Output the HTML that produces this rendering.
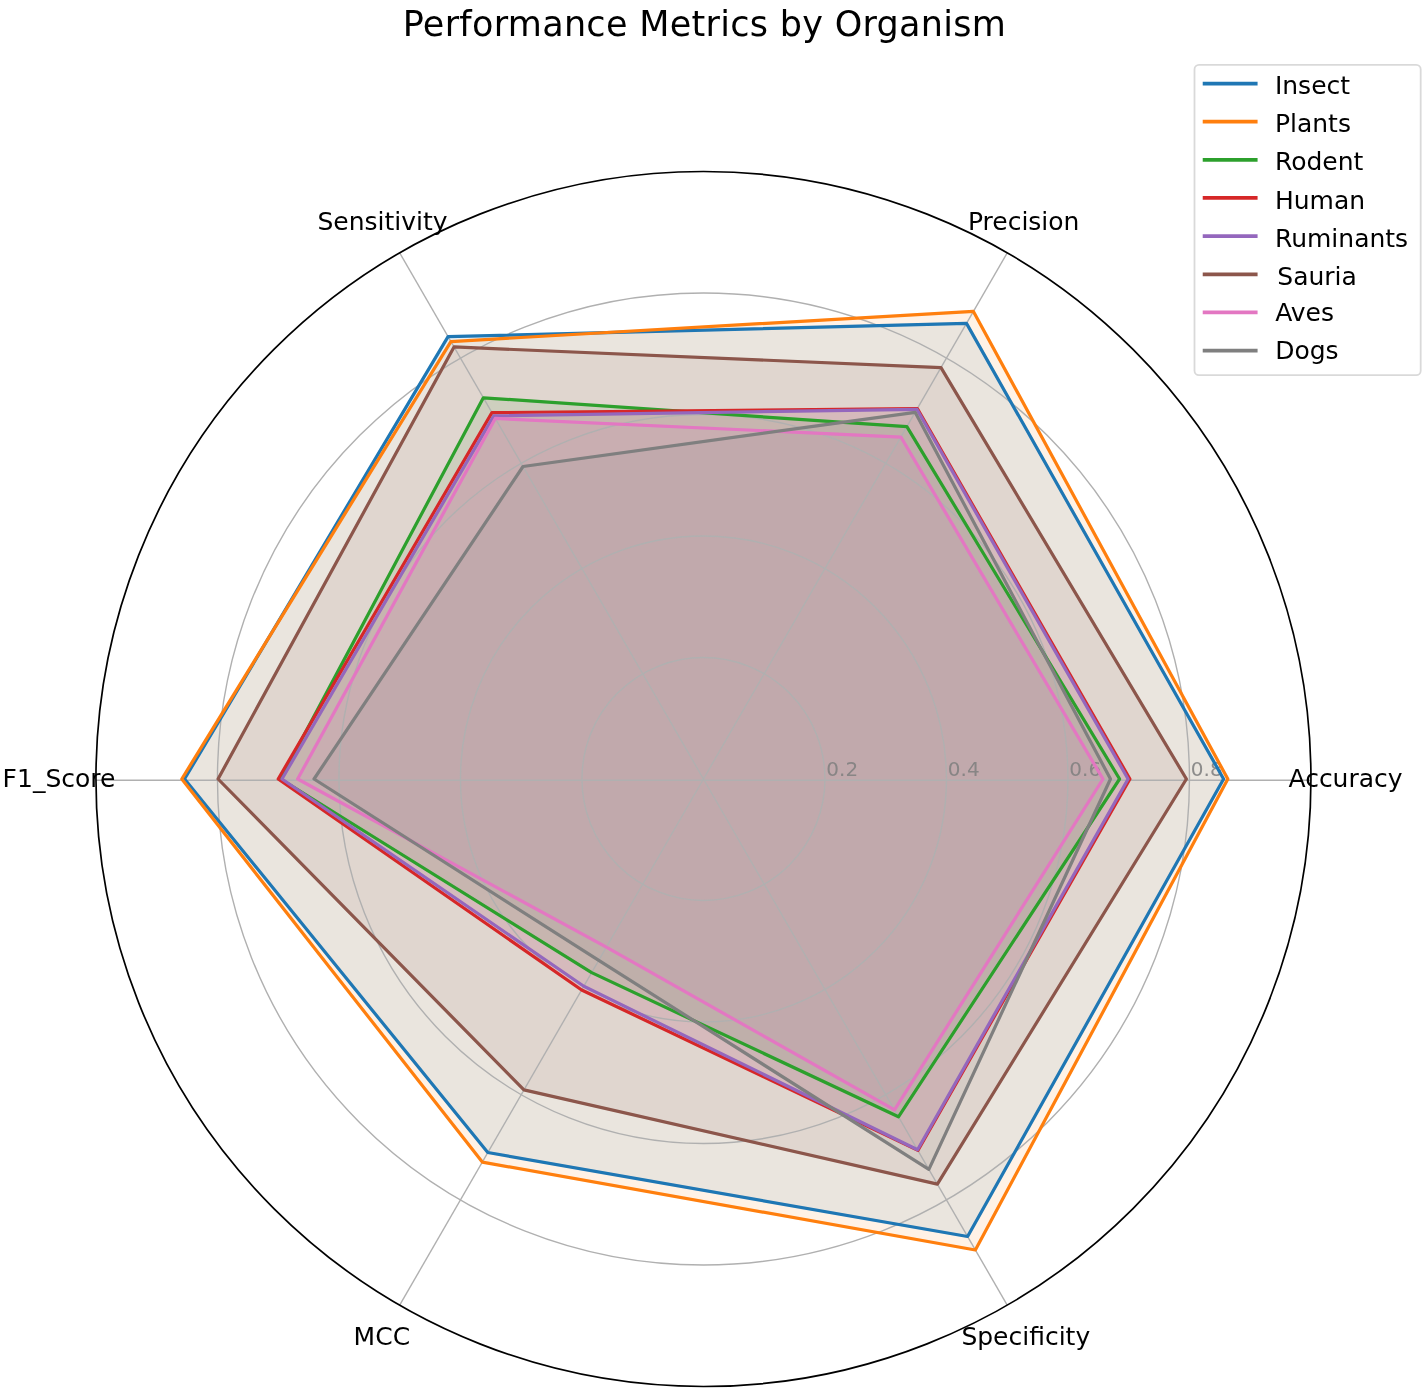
<!DOCTYPE html>
<html lang="en"><head><meta charset="utf-8"><title>Performance Metrics by Organism</title>
<style>html,body{margin:0;padding:0;background:#fff}svg{display:block}text{font-family:"DejaVu Sans","Liberation Sans",sans-serif;fill:#000}</style>
</head><body>
<svg width="1427" height="1396" viewBox="0 0 1427 1396">
<rect width="1427" height="1396" fill="#fff"/>
<g fill-opacity="0.1" stroke-opacity="0.1" stroke-width="2.5" stroke-linejoin="miter">
<polygon points="1223.59,779.00 966.50,323.39 448.06,336.65 184.52,779.00 487.79,1152.54 967.59,1236.51" fill="#1f77b4" stroke="#1f77b4"/>
<polygon points="1227.84,779.00 973.42,311.39 450.88,341.54 181.79,779.00 482.29,1162.06 975.37,1249.97" fill="#ff7f0e" stroke="#ff7f0e"/>
<polygon points="1119.59,779.00 906.87,426.66 483.35,397.78 280.63,779.00 591.67,972.61 898.46,1116.76" fill="#2ca02c" stroke="#2ca02c"/>
<polygon points="1129.91,779.00 917.35,408.51 491.95,412.67 278.20,779.00 581.65,989.97 917.90,1150.43" fill="#d62728" stroke="#d62728"/>
<polygon points="1128.09,779.00 916.90,409.30 493.77,415.83 281.97,779.00 583.77,986.29 917.53,1149.80" fill="#9467bd" stroke="#9467bd"/>
<polygon points="1186.41,779.00 940.98,367.58 454.01,346.96 218.06,779.00 523.93,1089.93 937.37,1184.16" fill="#8c564b" stroke="#8c564b"/>
<polygon points="1103.00,779.00 900.89,437.03 495.29,418.46 297.64,779.00 606.34,947.20 894.51,1109.92" fill="#e377c2" stroke="#e377c2"/>
<polygon points="1110.48,779.00 915.16,412.30 523.02,466.49 314.04,779.00 598.75,960.35 928.86,1169.43" fill="#7f7f7f" stroke="#7f7f7f"/>
</g>
<g fill="none" stroke="#b0b0b0" stroke-width="1.4">
<circle cx="703.45" cy="779.00" r="121.50"/>
<circle cx="703.45" cy="779.00" r="243.00"/>
<circle cx="703.45" cy="779.00" r="364.50"/>
<circle cx="703.45" cy="779.00" r="486.00"/>
<line x1="703.45" y1="780.20" x2="1310.95" y2="780.20"/>
<line x1="703.45" y1="779.00" x2="1007.20" y2="252.89"/>
<line x1="703.45" y1="779.00" x2="399.70" y2="252.89"/>
<line x1="703.45" y1="780.20" x2="95.95" y2="780.20"/>
<line x1="703.45" y1="779.00" x2="399.70" y2="1305.11"/>
<line x1="703.45" y1="779.00" x2="1007.20" y2="1305.11"/>
</g>
<g font-size="20" style="fill:#808080">
<text x="826.30" y="775.9" style="fill:#808080;fill-opacity:0.88">0.2</text>
<text x="947.80" y="775.9" style="fill:#808080;fill-opacity:0.88">0.4</text>
<text x="1069.30" y="775.9" style="fill:#808080;fill-opacity:0.88">0.6</text>
<text x="1190.80" y="775.9" style="fill:#808080;fill-opacity:0.88">0.8</text>
</g>
<g fill="none" stroke-width="3.20" stroke-linejoin="round">
<polygon points="1223.59,779.00 966.50,323.39 448.06,336.65 184.52,779.00 487.79,1152.54 967.59,1236.51" stroke="#1f77b4"/>
<polygon points="1227.84,779.00 973.42,311.39 450.88,341.54 181.79,779.00 482.29,1162.06 975.37,1249.97" stroke="#ff7f0e"/>
<polygon points="1119.59,779.00 906.87,426.66 483.35,397.78 280.63,779.00 591.67,972.61 898.46,1116.76" stroke="#2ca02c"/>
<polygon points="1129.91,779.00 917.35,408.51 491.95,412.67 278.20,779.00 581.65,989.97 917.90,1150.43" stroke="#d62728"/>
<polygon points="1128.09,779.00 916.90,409.30 493.77,415.83 281.97,779.00 583.77,986.29 917.53,1149.80" stroke="#9467bd"/>
<polygon points="1186.41,779.00 940.98,367.58 454.01,346.96 218.06,779.00 523.93,1089.93 937.37,1184.16" stroke="#8c564b"/>
<polygon points="1103.00,779.00 900.89,437.03 495.29,418.46 297.64,779.00 606.34,947.20 894.51,1109.92" stroke="#e377c2"/>
<polygon points="1110.48,779.00 915.16,412.30 523.02,466.49 314.04,779.00 598.75,960.35 928.86,1169.43" stroke="#7f7f7f"/>
</g>
<circle cx="703.45" cy="779.00" r="607.50" fill="none" stroke="#000" stroke-width="1.7"/>
<g font-size="25">
<text x="1288.47" y="786.60">Accuracy</text>
<text x="967.92" y="230.10">Precision</text>
<text x="317.48" y="230.10">Sensitivity</text>
<text x="2.62" y="786.50">F1_Score</text>
<text x="353.62" y="1344.60">MCC</text>
<text x="961.38" y="1344.60">Specificity</text>
</g>
<text x="402.68" y="36.1" font-size="35" textLength="603.3" lengthAdjust="spacing">Performance Metrics by Organism</text>
<rect x="1194.5" y="64.9" width="226.2" height="310.3" rx="4.5" ry="4.5" fill="#fff" fill-opacity="0.8" stroke="#cccccc" stroke-opacity="0.75" stroke-width="1.8"/>
<g stroke-width="3.75" stroke-linecap="square">
<line x1="1204.6" y1="83.50" x2="1255.7" y2="83.50" stroke="#1f77b4"/>
<line x1="1204.6" y1="121.66" x2="1255.7" y2="121.66" stroke="#ff7f0e"/>
<line x1="1204.6" y1="159.82" x2="1255.7" y2="159.82" stroke="#2ca02c"/>
<line x1="1204.6" y1="197.98" x2="1255.7" y2="197.98" stroke="#d62728"/>
<line x1="1204.6" y1="236.14" x2="1255.7" y2="236.14" stroke="#9467bd"/>
<line x1="1204.6" y1="274.30" x2="1255.7" y2="274.30" stroke="#8c564b"/>
<line x1="1204.6" y1="312.46" x2="1255.7" y2="312.46" stroke="#e377c2"/>
<line x1="1204.6" y1="350.62" x2="1255.7" y2="350.62" stroke="#7f7f7f"/>
</g>
<g font-size="25">
<text x="1274.90" y="94.20">Insect</text>
<text x="1274.90" y="132.30">Plants</text>
<text x="1274.90" y="170.40">Rodent</text>
<text x="1274.90" y="208.70">Human</text>
<text x="1274.90" y="246.80">Ruminants</text>
<text x="1277.30" y="285.00">Sauria</text>
<text x="1275.20" y="321.10">Aves</text>
<text x="1275.20" y="359.30">Dogs</text>
</g>
</svg></body></html>
